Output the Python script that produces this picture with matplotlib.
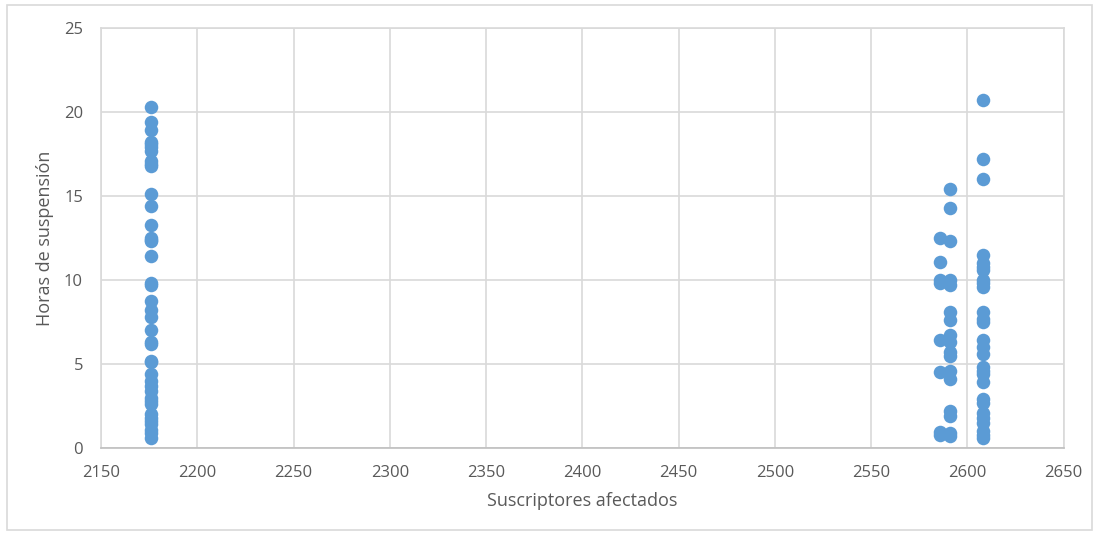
import matplotlib.pyplot as plt
from matplotlib.patches import Rectangle

# suscriptores afectados por grupo y horas de suspensión
x_a = 2176
horas_a = [20.3, 19.4, 18.9, 18.2, 18.1, 17.9, 17.7, 17.1, 16.9, 16.8, 15.1, 14.4,
           13.3, 12.5, 12.3, 12.4, 11.4, 9.8, 9.7, 8.75, 8.2, 7.8, 7.0, 6.3, 6.2,
           5.2, 5.1, 4.4, 4.0, 3.7, 3.4, 3.0, 2.8, 2.6, 2.0, 1.8, 1.6, 1.4, 1.1,
           0.9, 0.6]
x_b = 2586
horas_b = [12.5, 11.1, 10.0, 9.8, 6.4, 4.5, 0.95, 0.75]
x_c = 2591
horas_c = [15.4, 14.3, 12.3, 10.0, 9.7, 8.1, 7.6, 6.7, 6.3, 5.7, 5.5, 4.6, 4.1,
           2.2, 1.9, 0.9, 0.7]
x_d = 2608
horas_d = [20.7, 17.2, 16.0, 11.5, 11.0, 10.8, 10.6, 10.0, 9.8, 9.6, 8.1, 7.7, 7.5,
           6.4, 6.0, 5.6, 4.8, 4.6, 4.4, 3.9, 2.9, 2.7, 2.1, 1.8, 1.5, 1.0, 0.8, 0.6]

xs = [x_a] * len(horas_a) + [x_b] * len(horas_b) + [x_c] * len(horas_c) + [x_d] * len(horas_d)
ys = horas_a + horas_b + horas_c + horas_d

plt.rcParams['font.family'] = ['Open Sans', 'DejaVu Sans']

fig = plt.figure(figsize=(10.99, 5.33), dpi=100)
ax = fig.add_axes([0.0919, 0.1595, 0.876, 0.788])

ax.scatter(xs, ys, s=95, color='#5B9BD5', zorder=3, linewidths=0)

ax.set_xlim(2150, 2650)
ax.set_ylim(0, 25)
ax.set_xticks(range(2150, 2651, 50))
ax.set_yticks(range(0, 26, 5))
ax.grid(True, color='#D9D9D9', linewidth=1.2)
ax.set_axisbelow(True)
for s in ax.spines.values():
    s.set_color('#D9D9D9')
    s.set_linewidth(1.2)
ax.spines['bottom'].set_color('#BFBFBF')
ax.tick_params(length=0, labelsize=12, colors='#595959')
ax.tick_params(axis='x', pad=12)
ax.tick_params(axis='y', pad=13)

ax.set_xlabel('Suscriptores afectados', fontsize=13, color='#595959')
ax.set_ylabel('Horas de suspensión', fontsize=13, color='#595959')
ax.xaxis.set_label_coords(0.5, -0.126)
ax.yaxis.set_label_coords(-0.058, 0.5)
ax.xaxis.label.set_va('center')
ax.yaxis.label.set_va('center')

# borde del área del gráfico
fig.patches.append(Rectangle((0.006, 0.006), 0.988, 0.985, transform=fig.transFigure,
                             fill=False, edgecolor='#D9D9D9', linewidth=1.2))

fig.savefig('out.png', dpi=100)
